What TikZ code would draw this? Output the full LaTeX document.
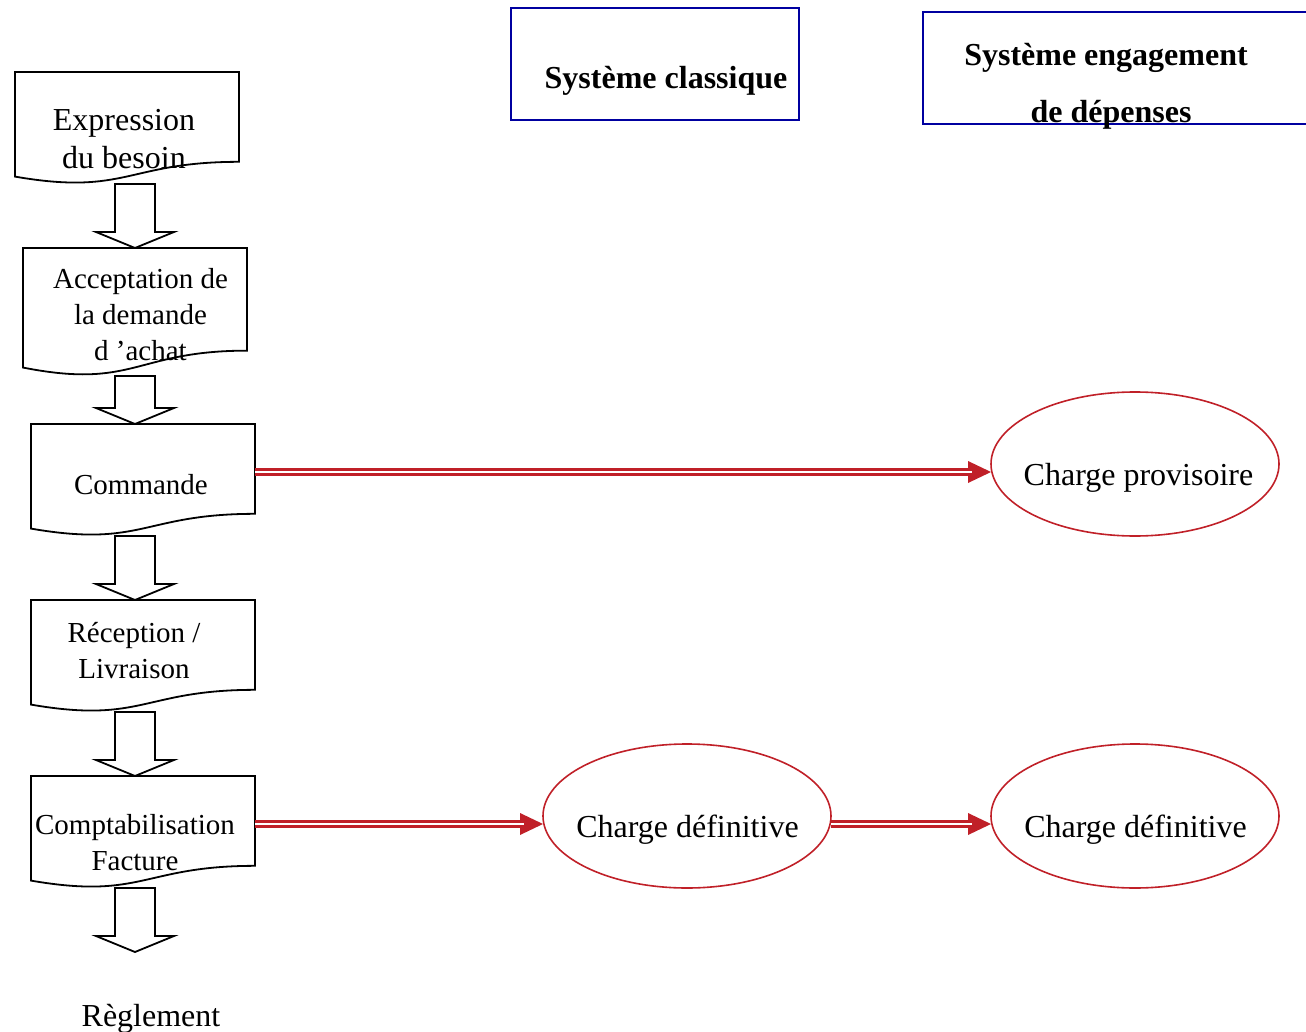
\documentclass[tikz,border=0pt]{standalone}
\usepackage{fontspec}
\setmainfont{Liberation Serif}
\usetikzlibrary{shapes.geometric,calc}
\definecolor{dred}{RGB}{192,32,40}
\definecolor{dblue}{RGB}{0,0,160}
\newcommand\docout[1]{%
 \draw[outline] let \p1=(#1.north west), \p2=(#1.south east), \n1={\y2-\y1} in
  (\p1) -- (\x2,\y1) -- (\x2,{\y1+0.802*\n1})
  .. controls ({(\x1+\x2)/2},{\y1+0.802*\n1}) and ({(\x1+\x2)/2},{\y1+1.107*\n1}) ..
  (\x1,{\y1+0.934*\n1}) -- cycle;}
\newcommand\blockarrow[2]{%
 \draw[outline] let \p1=(#1), \p2=(#2), \p3=(col) in
  ({\x3-20pt},\y1) -- ({\x3+20pt},\y1) -- ({\x3+20pt},{\y2+16pt}) -- ({\x3+39pt},{\y2+16pt})
  -- (\x3,\y2) -- ({\x3-39pt},{\y2+16pt}) -- ({\x3-20pt},{\y2+16pt}) -- cycle;}
\newcommand\redarrow[2]{%
 \fill[arrowhead] (#2) -- ++(-23pt,11pt) -- ++(0,-22pt) -- cycle;
 \draw[shaft] (#1) -- ([xshift=-19pt]#2);}
\begin{document}
\begin{tikzpicture}[x=1pt,y=-1pt,
 docbox/.style={draw=none, minimum width=224pt, inner sep=0pt, outer sep=0pt},
 doctext/.style={align=center, font=\fontsize{29}{36}\selectfont, inner sep=0pt},
 bigdoctext/.style={align=center, font=\fontsize{32}{38}\selectfont, inner sep=0pt},
 bigtext/.style={font=\fontsize{32}{38}\selectfont, inner sep=0pt},
 headtext/.style={font=\fontsize{32}{38}\selectfont\bfseries, inner sep=0pt},
 headbox/.style={draw=dblue, line width=1.6pt, inner sep=0pt, outer sep=0pt},
 charge/.style={ellipse, draw=dred, line width=1.6pt, minimum width=288pt, minimum height=144pt, inner sep=0pt, outer sep=0pt},
 outline/.style={draw=black, line width=1.8pt, line join=miter},
 shaft/.style={draw=dred, double=white, line width=2.4pt, double distance=2.6pt},
 arrowhead/.style={fill=dred}
]
\useasboundingbox (0,0) rectangle (1306,1032);
\coordinate (col) at (135,0);
% document boxes
\node[docbox, minimum height=112pt] (b1) at (127,128) {};
\node[docbox, minimum height=128pt] (b2) at (135,312) {};
\node[docbox, minimum height=112pt] (b3) at (143,480) {};
\node[docbox, minimum height=112pt] (b4) at (143,656) {};
\node[docbox, minimum height=112pt] (b5) at (143,832) {};
\docout{b1}\docout{b2}\docout{b3}\docout{b4}\docout{b5}
\node[bigdoctext] (t1) at (124,139.5) {Expression\\du besoin};
\node[doctext] (t2) at (140.5,314.5) {Acceptation de\\la demande\\d ’achat};
\node[doctext, anchor=base] (t3) at (141,494) {Commande};
\node[doctext] (t4) at (134,651) {Réception /\\Livraison};
\node[doctext] (t5) at (135,843) {Comptabilisation\\Facture};
\node[bigtext, anchor=base] (t6) at (151,1026) {Règlement};
\coordinate (endarrow) at (135,952);
% block arrows
\blockarrow{b1.south}{b2.north}
\blockarrow{b2.south}{b3.north}
\blockarrow{b3.south}{b4.north}
\blockarrow{b4.south}{b5.north}
\blockarrow{b5.south}{endarrow}
% headers
\node[headbox, minimum width=288pt, minimum height=112pt] (h1) at (655,64) {};
\node[headtext, anchor=base] (h1t) at (666,89) {Système classique};
\node[headbox, minimum width=397pt, minimum height=112pt] (h2) at (1121.5,68) {};
\node[headtext, anchor=base] (h2a) at (1106,66) {Système engagement};
\node[headtext, anchor=base] (h2b) at (1111,123) {de dépenses};
% ellipses
\node[charge] (cp) at (1135,464) {};
\node[charge] (cd1) at (687,816) {};
\node[charge] (cd2) at (1135,816) {};
\node[bigtext, anchor=base] (cpt) at (1138.5,485) {Charge provisoire};
\node[bigtext, anchor=base] (cd1t) at (687.5,837) {Charge définitive};
\node[bigtext, anchor=base] (cd2t) at (1135.5,837) {Charge définitive};
% red connectors
\coordinate (s1) at ([yshift=8pt]b3.east);
\coordinate (e1) at (s1 -| cp.west);
\coordinate (s2) at ([yshift=8pt]b5.east);
\coordinate (e2) at (s2 -| cd1.west);
\coordinate (s3) at ([yshift=-8pt]cd1.east);
\coordinate (e3) at (s3 -| cd2.west);
\redarrow{s1}{e1}
\redarrow{s2}{e2}
\redarrow{s3}{e3}
\end{tikzpicture}
\end{document}
